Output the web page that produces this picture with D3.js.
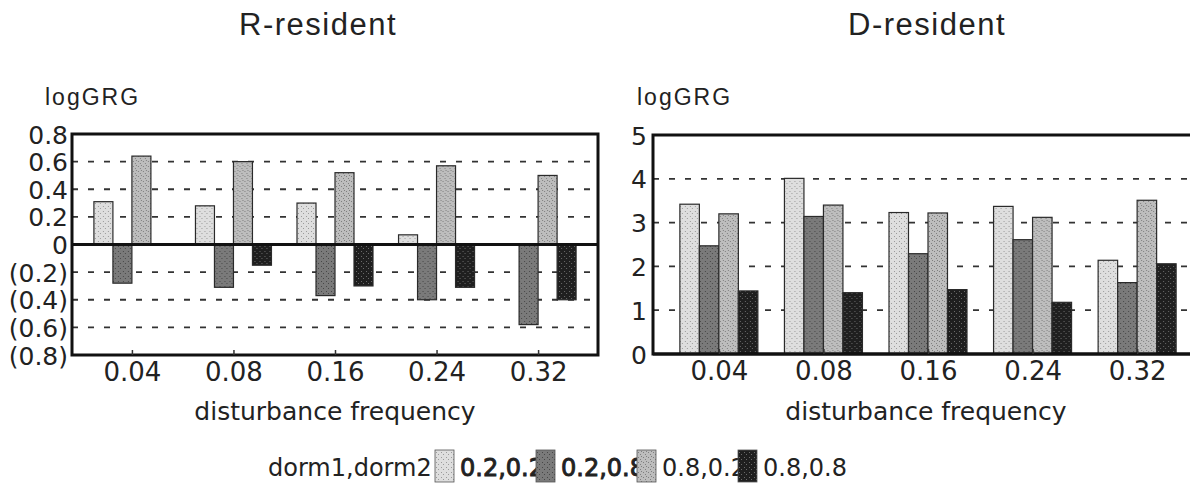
<!DOCTYPE html>
<meta http-equiv="Content-Type" content="text/html; charset=utf-8">
<style>
body { margin: 0; background: #fff; }
text { font-family: "DejaVu Sans", sans-serif; fill: #222; }
</style>
<body>
<script src="https://cdn.jsdelivr.net/npm/d3@7"></script>
<script>
// data
var freqs = ["0.04", "0.08", "0.16", "0.24", "0.32"];
var seriesNames = ["0.2,0.2", "0.2,0.8", "0.8,0.2", "0.8,0.8"];
var rResident = [
  [0.31, -0.28, 0.64, 0],
  [0.28, -0.31, 0.60, -0.15],
  [0.30, -0.37, 0.52, -0.30],
  [0.07, -0.40, 0.57, -0.31],
  [0, -0.58, 0.50, -0.40]
];
var dResident = [
  [3.42, 2.47, 3.20, 1.44],
  [4.01, 3.14, 3.40, 1.40],
  [3.23, 2.29, 3.22, 1.47],
  [3.37, 2.61, 3.12, 1.18],
  [2.14, 1.63, 3.51, 2.06]
];
var rTicks = [0.8, 0.6, 0.4, 0.2, 0, -0.2, -0.4, -0.6, -0.8];
var dTicks = [0, 1, 2, 3, 4, 5];

var base = ["#dedede", "#7a7a7a", "#bdbdbd", "#1f1f1f"];
var dots = ["#9a9a9a", "#474747", "#7f7f7f", "#6a6a6a"];
var boldLegend = [true, true, false, false];

var svg = d3.select("body").append("svg").attr("width", 1190).attr("height", 483);

// speckle patterns
var defs = svg.append("defs");
base.forEach(function(c, i) {
  var p = defs.append("pattern").attr("id", "pat" + i)
    .attr("patternUnits", "userSpaceOnUse").attr("width", 5).attr("height", 5);
  p.append("rect").attr("width", 5).attr("height", 5).attr("fill", c);
  p.append("rect").attr("x", 1).attr("y", 1).attr("width", 1).attr("height", 1).attr("fill", dots[i]);
  p.append("rect").attr("x", 3).attr("y", 3).attr("width", 1).attr("height", 1).attr("fill", dots[i]);
  if (i == 2) p.append("rect").attr("x", 4).attr("y", 0).attr("width", 1).attr("height", 1).attr("fill", dots[i]);
});

var fmt1 = d3.format(".1f");

function panel(opt) {
  var g = svg.append("g");
  var x0 = d3.scalePoint().domain(freqs).range([opt.left, opt.right]).padding(opt.pad);
  var x1 = d3.scaleBand().domain(d3.range(4)).range([-2 * opt.bw, 2 * opt.bw]);
  var y = d3.scaleLinear().domain(opt.domain).range([opt.bottom, opt.top]);

  // grid
  g.selectAll(".grid").data(opt.ticks.filter(function(t) { return t != 0 && t != opt.domain[0] && t != opt.domain[1]; }))
    .enter().append("line")
    .attr("x1", opt.left).attr("x2", opt.right)
    .attr("y1", function(d) { return y(d); }).attr("y2", function(d) { return y(d); })
    .attr("stroke", "#333").attr("stroke-width", 1.8).attr("stroke-dasharray", "6,10");

  // bars
  var groups = g.selectAll(".grp").data(opt.data).enter().append("g")
    .attr("transform", function(d, i) { return "translate(" + x0(freqs[i]) + ",0)"; });
  groups.selectAll("rect").data(function(d) { return d.map(function(v, k) { return {k: k, v: v}; }).filter(function(e) { return e.v != 0; }); })
    .enter().append("rect")
    .attr("x", function(d) { return x1(d.k); })
    .attr("width", x1.bandwidth())
    .attr("y", function(d) { return y(Math.max(0, d.v)); })
    .attr("height", function(d) { return Math.abs(y(d.v) - y(0)); })
    .attr("fill", function(d) { return "url(#pat" + d.k + ")"; })
    .attr("stroke", "#2a2a2a").attr("stroke-width", 1.2);

  // zero line
  g.append("line").attr("x1", opt.left).attr("x2", opt.right)
    .attr("y1", y(0)).attr("y2", y(0)).attr("stroke", "#111").attr("stroke-width", 3);

  // frame
  g.append("rect").attr("x", opt.left).attr("y", opt.top)
    .attr("width", opt.right - opt.left).attr("height", opt.bottom - opt.top)
    .attr("fill", "none").attr("stroke", "#111").attr("stroke-width", 3);

  // y axis
  var ya = g.append("g").attr("transform", "translate(" + opt.left + ",0)")
    .call(d3.axisLeft(y).tickValues(opt.ticks).tickSize(0).tickPadding(opt.lpad)
      .tickFormat(function(d) { return d < 0 ? "(" + fmt1(-d) + ")" : (d == 0 || !opt.fmt ? d : fmt1(d)); }));
  ya.select(".domain").remove();
  ya.selectAll("text").style("font-size", "25px").attr("fill", "#222").attr("dy", "0.36em");

  // x axis
  var xa = g.append("g").attr("transform", "translate(0," + opt.bottom + ")")
    .call(d3.axisBottom(x0).tickSize(-5).tickPadding(8));
  xa.select(".domain").remove();
  xa.selectAll("line").attr("stroke", "#333").attr("stroke-width", 1.5);
  xa.selectAll("text").style("font-size", "26px").attr("fill", "#222");

  g.append("text").attr("x", opt.titleX).attr("y", 35)
    .attr("text-anchor", "middle").style("font-family", "'Liberation Sans', Arial, sans-serif")
    .style("font-size", "31px").style("letter-spacing", "1.5px").text(opt.title);
  g.append("text").attr("x", opt.labelX).attr("y", 105)
    .style("font-family", "'Liberation Sans', Arial, sans-serif")
    .style("font-size", "23px").style("letter-spacing", "2px").text("logGRG");
  g.append("text").attr("x", opt.xTitleX).attr("y", 420)
    .attr("text-anchor", "middle").style("font-size", "25px").text("disturbance frequency");
}

panel({data: rResident, domain: [-0.8, 0.8], ticks: rTicks, fmt: true,
  left: 72, right: 598, top: 134, bottom: 355, pad: 0.59, bw: 19, lpad: 4,
  title: "R-resident", titleX: 318, labelX: 45, xTitleX: 335});
panel({data: dResident, domain: [0, 5], ticks: dTicks, fmt: false,
  left: 653, right: 1203, top: 135, bottom: 354, pad: 0.63, bw: 19.5, lpad: 6,
  title: "D-resident", titleX: 927, labelX: 637, xTitleX: 926});

// legend: text first, swatches drawn on top like the original
var lg = svg.append("g").attr("transform", "translate(268,476)");
lg.append("text").attr("x", 0).attr("y", 0).style("font-size", "24px").text("dorm1,dorm2");
var items = lg.selectAll(".li").data(seriesNames).enter().append("g")
  .attr("transform", function(d, i) { return "translate(" + (167 + i * 101) + ",0)"; });
items.append("text").attr("x", 25).attr("y", 0).style("font-size", "24px")
  .attr("stroke", function(d, i) { return boldLegend[i] ? "#222" : "none"; })
  .attr("stroke-width", 0.9)
  .text(function(d) { return d; });
items.append("rect").attr("x", 0).attr("y", -26).attr("width", 19).attr("height", 32)
  .attr("fill", function(d, i) { return "url(#pat" + i + ")"; })
  .attr("stroke", "#555").attr("stroke-width", 0.8);
</script>
</body>
</html>
